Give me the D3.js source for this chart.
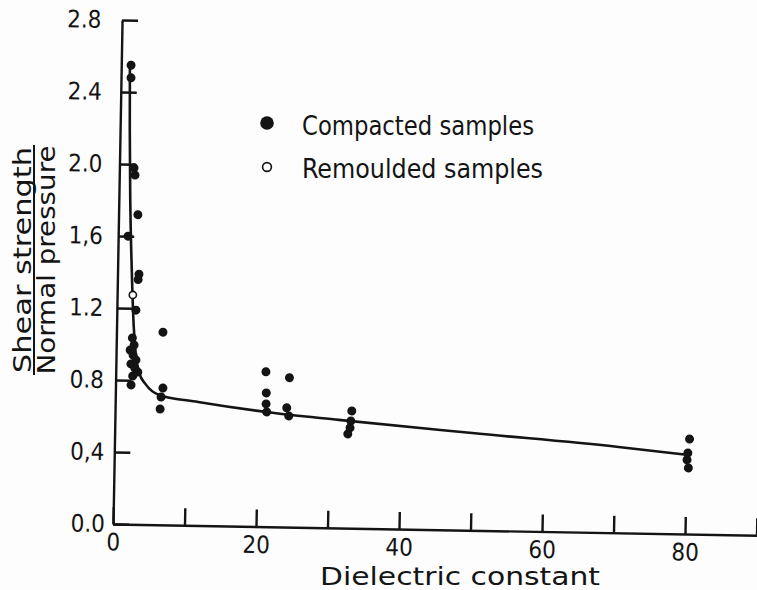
<!DOCTYPE html>
<html>
<head>
<meta charset="utf-8">
<script src="https://cdn.jsdelivr.net/npm/d3@7"></script>
<style>
  body { margin: 0; background: #fff; }
  svg text { font-family: "DejaVu Sans Condensed", "DejaVu Sans", sans-serif; font-stretch: condensed; fill: #141414; }
  .axis path, .axis line { stroke: #141414; stroke-width: 2.4px; }
</style>
</head>
<body>
<div id="chart"></div>
<script>
// compacted samples (filled dots)
const compactedX = [1.37, 1.4, 2.04, 2.2, 2.7, 1.37, 3.0, 2.9, 2.67, 6.5,
                    2.24, 2.5, 1.96, 2.38, 2.8, 2.1, 2.66, 3.08, 2.38, 2.17,
                    6.64, 6.4, 6.3,
                    21.0, 21.1, 21.1, 21.2,
                    24.3, 24.0, 24.3,
                    33.1, 33.0, 32.9, 32.6,
                    80.4, 80.2, 80.1, 80.3];
const compactedY = [2.55, 2.48, 1.98, 1.94, 1.72, 1.60, 1.39, 1.36, 1.19, 1.07,
                    1.035, 0.996, 0.968, 0.94, 0.913, 0.891, 0.868, 0.846, 0.824, 0.774,
                    0.76, 0.71, 0.643,
                    0.86, 0.743, 0.682, 0.637,
                    0.83, 0.662, 0.617,
                    0.651, 0.595, 0.557, 0.523,
                    0.528, 0.45, 0.412, 0.367];

// remoulded samples (open circles)
const remouldedX = [2.2];
const remouldedY = [1.274];

// fitted curve
const curveX = [1.2, 1.35, 1.6, 2.0, 2.4, 2.8, 3.3, 4.2, 6.2, 11.6, 21.1, 31.3, 50, 70.5, 80];
const curveY = [2.57, 2.2, 1.8, 1.4, 1.1, 0.93, 0.84, 0.78, 0.72, 0.686, 0.637, 0.60, 0.54, 0.477, 0.44];

const xTicks = d3.range(0, 91, 10);
const xTickLabels = ["0", "", "20", "", "40", "", "60", "", "80", ""];
const yTicks = [0, 0.4, 0.8, 1.2, 1.6, 2.0, 2.4, 2.8];
const yTickLabels = ["0.0", "0,4", "0.8", "1.2", "1,6", "2.0", "2.4", "2.8"];

const legendLabels = ["Compacted samples", "Remoulded samples"];

const width = 643.5, height = 504;

const svg = d3.select("#chart")
    .append("svg")
        .attr("width", 757)
        .attr("height", 590);

svg.append("rect").attr("width", 757).attr("height", 590).attr("fill", "#fdfdfd");

// the printed figure sits slightly askew, so the plot area is sheared a little
const shearX = -0.018, shearY = 0.0175;
const originX = 113, originY = 524;
const plot = svg.append("g")
    .attr("transform", "matrix(1," + shearY + "," + shearX + ",1," +
          (originX - shearX * height) + "," + (originY - height) + ")");

const x = d3.scaleLinear().domain([0, 90]).range([0, width]);
const y = d3.scaleLinear().domain([0, 2.8]).range([height, 0]);

// X axis, ticks pointing up into the plot
plot.append("g")
    .attr("class", "axis")
    .attr("transform", "translate(0," + height + ")")
    .call(d3.axisBottom(x)
        .tickValues(xTicks)
        .tickFormat((d, i) => xTickLabels[i])
        .tickSizeInner(-17)
        .tickSizeOuter(0)
        .tickPadding(6))
    .call(g => g.selectAll("text").style("font-size", "24px").attr("dy", "0.85em"));

// Y axis, ticks pointing right; upper labels sit a bit further out
plot.append("g")
    .attr("class", "axis")
    .call(d3.axisLeft(y)
        .tickValues(yTicks)
        .tickFormat((d, i) => yTickLabels[i])
        .tickSizeInner(-16)
        .tickSizeOuter(0)
        .tickPadding(8))
    .call(g => g.selectAll("text")
        .style("font-size", "24px")
        .attr("dx", d => -d * 4.5));

// fitted curve
const line = d3.line()
    .x(d => x(d[0]))
    .y(d => y(d[1]))
    .curve(d3.curveMonotoneX);

plot.append("path")
    .datum(curveX.map((v, i) => [v, curveY[i]]))
    .attr("d", line)
    .attr("fill", "none")
    .attr("stroke", "#141414")
    .attr("stroke-width", 2.6);

// data points
plot.selectAll(".compacted")
    .data(compactedX.map((v, i) => [v, compactedY[i]]))
    .join("circle")
        .attr("class", "compacted")
        .attr("cx", d => x(d[0]))
        .attr("cy", d => y(d[1]))
        .attr("r", 4.5)
        .attr("fill", "#141414");

plot.selectAll(".remoulded")
    .data(remouldedX.map((v, i) => [v, remouldedY[i]]))
    .join("circle")
        .attr("class", "remoulded")
        .attr("cx", d => x(d[0]))
        .attr("cy", d => y(d[1]))
        .attr("r", 3.6)
        .attr("fill", "#fff")
        .attr("stroke", "#141414")
        .attr("stroke-width", 1.6);

// X axis label
svg.append("text")
    .attr("x", 320)
    .attr("y", 585)
    .attr("textLength", 280)
    .attr("lengthAdjust", "spacingAndGlyphs")
    .style("font-size", "25px")
    .text("Dielectric constant");

// Y axis label: ratio written as a fraction
const yl = svg.append("g").attr("transform", "translate(0,260) rotate(-90)");
yl.append("text")
    .attr("x", 0).attr("y", 31)
    .attr("text-anchor", "middle")
    .attr("textLength", 226)
    .attr("lengthAdjust", "spacingAndGlyphs")
    .style("font-size", "25px")
    .text("Shear  strength");
yl.append("line")
    .attr("x1", -115).attr("x2", 115)
    .attr("y1", 34).attr("y2", 34)
    .attr("stroke", "#141414")
    .attr("stroke-width", 2);
yl.append("text")
    .attr("x", 0).attr("y", 55)
    .attr("text-anchor", "middle")
    .attr("textLength", 229)
    .attr("lengthAdjust", "spacingAndGlyphs")
    .style("font-size", "25px")
    .text("Normal pressure");

// legend
const legend = svg.append("g");
legend.append("circle").attr("cx", 267).attr("cy", 123).attr("r", 6.8).attr("fill", "#141414");
legend.append("circle").attr("cx", 267).attr("cy", 167).attr("r", 4.4)
    .attr("fill", "#fff").attr("stroke", "#141414").attr("stroke-width", 1.6);
legend.selectAll(".leg")
    .data(legendLabels)
    .join("text")
        .attr("class", "leg")
        .attr("x", 302)
        .attr("y", (d, i) => 135 + i * 43)
        .attr("textLength", (d, i) => i === 0 ? 232 : 241)
        .attr("lengthAdjust", "spacingAndGlyphs")
        .style("font-size", "26px")
        .text(d => d);
</script>
</body>
</html>
